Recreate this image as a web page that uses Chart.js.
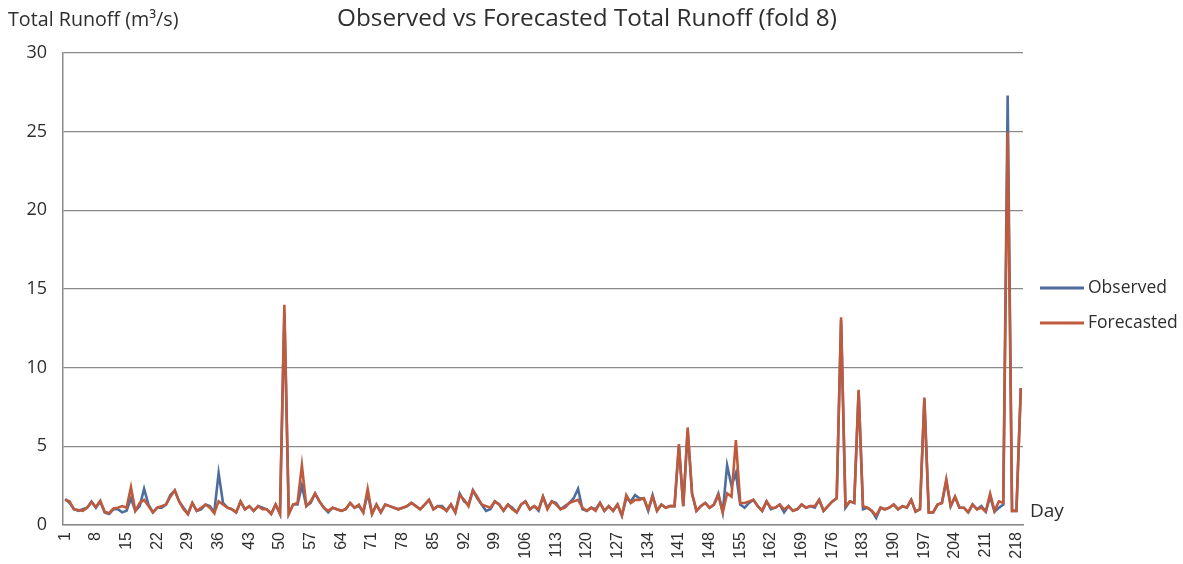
<!DOCTYPE html>
<html>
<head>
<meta charset="utf-8">
<script src="https://cdn.jsdelivr.net/npm/chart.js@4.4.1/dist/chart.umd.min.js"></script>
<style>
html,body{margin:0;padding:0;background:#fff;}
#wrap{width:1183px;height:564px;position:relative;}
</style>
</head>
<body>
<div id="wrap"><canvas id="c" width="1183" height="564"></canvas></div>
<script>
const days = Array.from({length: 219}, (_, i) => String(i + 1));

const observed = [
1.65,1.4,1.0,0.9,1.0,1.1,1.5,1.1,1.5,0.8,
0.7,1.0,1.0,0.8,0.9,1.7,0.9,1.2,2.3,1.3,
0.8,1.1,1.1,1.3,1.9,2.2,1.5,1.1,0.7,1.4,
0.9,1.0,1.3,1.2,0.8,3.3,1.4,1.1,1.0,0.8,
1.5,1.0,1.2,0.9,1.2,1.1,1.0,0.7,1.3,0.7,
13.5,0.7,1.3,1.3,2.5,1.2,1.4,2.0,1.5,1.1,
0.8,1.1,1.0,0.9,1.0,1.4,1.1,1.2,0.8,2.0,
0.7,1.3,0.8,1.3,1.2,1.1,1.0,1.1,1.2,1.4,
1.2,1.0,1.3,1.6,1.0,1.2,1.2,0.9,1.3,0.8,
2.0,1.5,1.3,2.2,1.7,1.3,0.9,1.0,1.5,1.3,
0.9,1.3,1.1,0.8,1.3,1.5,1.0,1.2,0.9,1.8,
1.1,1.5,1.4,1.0,1.2,1.4,1.7,2.3,1.0,0.9,
1.1,1.0,1.4,0.9,1.2,0.9,1.3,0.6,1.7,1.5,
1.9,1.7,1.7,0.9,1.9,0.9,1.3,1.1,1.2,1.2,
5.0,1.2,6.0,2.0,0.9,1.2,1.4,1.1,1.3,2.0,
0.8,3.8,2.5,3.3,1.3,1.1,1.4,1.6,1.2,0.9,
1.5,1.0,1.1,1.3,0.8,1.2,0.9,1.0,1.3,1.1,
1.2,1.1,1.6,0.9,1.2,1.5,1.7,13.0,1.1,1.5,
1.4,8.5,1.0,1.1,0.9,0.45,1.1,1.0,1.1,1.3,
1.0,1.2,1.1,1.6,0.85,1.0,8.0,0.8,0.8,1.3,
1.4,2.8,1.2,1.8,1.1,1.1,0.8,1.3,1.0,1.2,
0.85,1.8,0.85,1.1,1.3,27.3,0.9,0.9,8.7
];

const forecasted = [
1.6,1.5,1.0,0.95,0.9,1.1,1.45,1.15,1.55,0.85,
0.75,1.05,1.1,1.2,1.1,2.4,0.9,1.4,1.6,1.2,
0.8,1.1,1.2,1.3,1.8,2.2,1.5,1.0,0.7,1.4,
0.9,1.1,1.3,1.1,0.75,1.5,1.3,1.1,1.0,0.8,
1.5,1.0,1.2,0.9,1.2,1.0,1.0,0.7,1.3,0.7,
14.0,0.7,1.3,1.4,3.8,1.2,1.5,2.0,1.5,1.1,
0.9,1.1,1.0,0.9,1.0,1.4,1.1,1.3,0.8,2.3,
0.7,1.3,0.8,1.3,1.2,1.1,1.0,1.1,1.2,1.4,
1.2,1.0,1.3,1.6,1.0,1.2,1.1,0.9,1.3,0.8,
1.9,1.6,1.2,2.2,1.8,1.3,1.2,1.1,1.5,1.3,
0.9,1.3,1.0,0.8,1.3,1.5,1.0,1.2,1.0,1.8,
1.0,1.5,1.3,1.0,1.1,1.4,1.5,1.6,1.1,0.9,
1.1,0.9,1.4,0.9,1.2,0.9,1.3,0.6,1.9,1.4,
1.6,1.6,1.7,1.0,1.8,0.9,1.3,1.1,1.2,1.2,
5.15,1.2,6.2,2.0,0.9,1.2,1.4,1.1,1.3,1.9,
0.8,2.0,1.8,5.4,1.4,1.4,1.5,1.6,1.2,0.9,
1.5,1.1,1.1,1.3,1.0,1.2,0.9,1.0,1.3,1.1,
1.2,1.2,1.6,0.9,1.2,1.5,1.7,13.2,1.2,1.5,
1.4,8.6,1.2,1.1,0.9,0.6,1.1,1.0,1.1,1.3,
1.0,1.2,1.1,1.6,0.85,1.0,8.1,0.8,0.8,1.3,
1.4,2.9,1.2,1.8,1.1,1.1,0.8,1.3,1.0,1.1,
0.85,2.0,0.9,1.5,1.4,25.0,0.9,0.9,8.7
];

const yTicks = [0, 5, 10, 15, 20, 25, 30];
const seriesNames = ['Observed', 'Forecasted'];
const seriesColors = ['#4d6d9e', '#c05a3c'];

const FONT = '"Open Sans", Lato, sans-serif';

const textPlugin = {
  id: 'texts',
  afterDraw(chart) {
    const ctx = chart.ctx;
    ctx.save();
    ctx.fillStyle = '#2e2e2e';
    ctx.textBaseline = 'middle';
    // title
    ctx.font = '24.3px ' + FONT;
    ctx.textAlign = 'center';
    ctx.fillText('Observed vs Forecasted Total Runoff (fold 8)', 587, 19);
    // y axis title
    ctx.font = '19.7px ' + FONT;
    ctx.textAlign = 'left';
    ctx.fillText('Total Runoff (m³/s)', 8, 20);
    // x axis title
    ctx.font = '19px ' + FONT;
    ctx.fillText('Day', 1030, 512);
    // legend
    ctx.font = '17.5px ' + FONT;
    const ly = [288, 323];
    seriesNames.forEach((n, i) => {
      ctx.strokeStyle = seriesColors[i];
      ctx.lineWidth = 3;
      ctx.beginPath();
      ctx.moveTo(1040, ly[i]);
      ctx.lineTo(1084, ly[i]);
      ctx.stroke();
      ctx.fillStyle = '#2e2e2e';
      ctx.fillText(n, 1088, ly[i]);
    });
    ctx.restore();
  }
};

new Chart(document.getElementById('c'), {
  type: 'line',
  data: {
    labels: days,
    datasets: [
      {label: seriesNames[0], data: observed, borderColor: seriesColors[0], backgroundColor: seriesColors[0], borderWidth: 2.6, pointRadius: 0, tension: 0, order: 2},
      {label: seriesNames[1], data: forecasted, borderColor: seriesColors[1], backgroundColor: seriesColors[1], borderWidth: 2.6, pointRadius: 0, tension: 0, order: 1}
    ]
  },
  options: {
    responsive: false,
    animation: false,
    layout: {padding: {top: 53, right: 160, left: 0, bottom: 0}},
    plugins: {legend: {display: false}, tooltip: {enabled: false}, title: {display: false}},
    scales: {
      x: {
        offset: true,
        grid: {display: false, drawTicks: false},
        border: {display: true, color: '#8a8a8a', width: 1.5},
        ticks: {
          autoSkip: false, minRotation: 90, maxRotation: 90, padding: 7,
          color: '#2e2e2e', font: {size: 16, family: '"Liberation Sans", Arial, sans-serif'},
          callback: function(v, i) { return i % 7 === 0 ? days[i] : ''; }
        },
        afterFit(s) { s.height = 39; }
      },
      y: {
        min: 0, max: 30,
        afterBuildTicks(s) { s.ticks = yTicks.map(v => ({value: v})); },
        grid: {color: '#8a8a8a', lineWidth: 1.2, drawTicks: false},
        border: {display: true, color: '#8a8a8a', width: 1.5},
        ticks: {padding: 16, color: '#2e2e2e', font: {size: 18, family: FONT}},
        afterFit(s) { s.width = 63; }
      }
    }
  },
  plugins: [textPlugin]
});
</script>
</body>
</html>
